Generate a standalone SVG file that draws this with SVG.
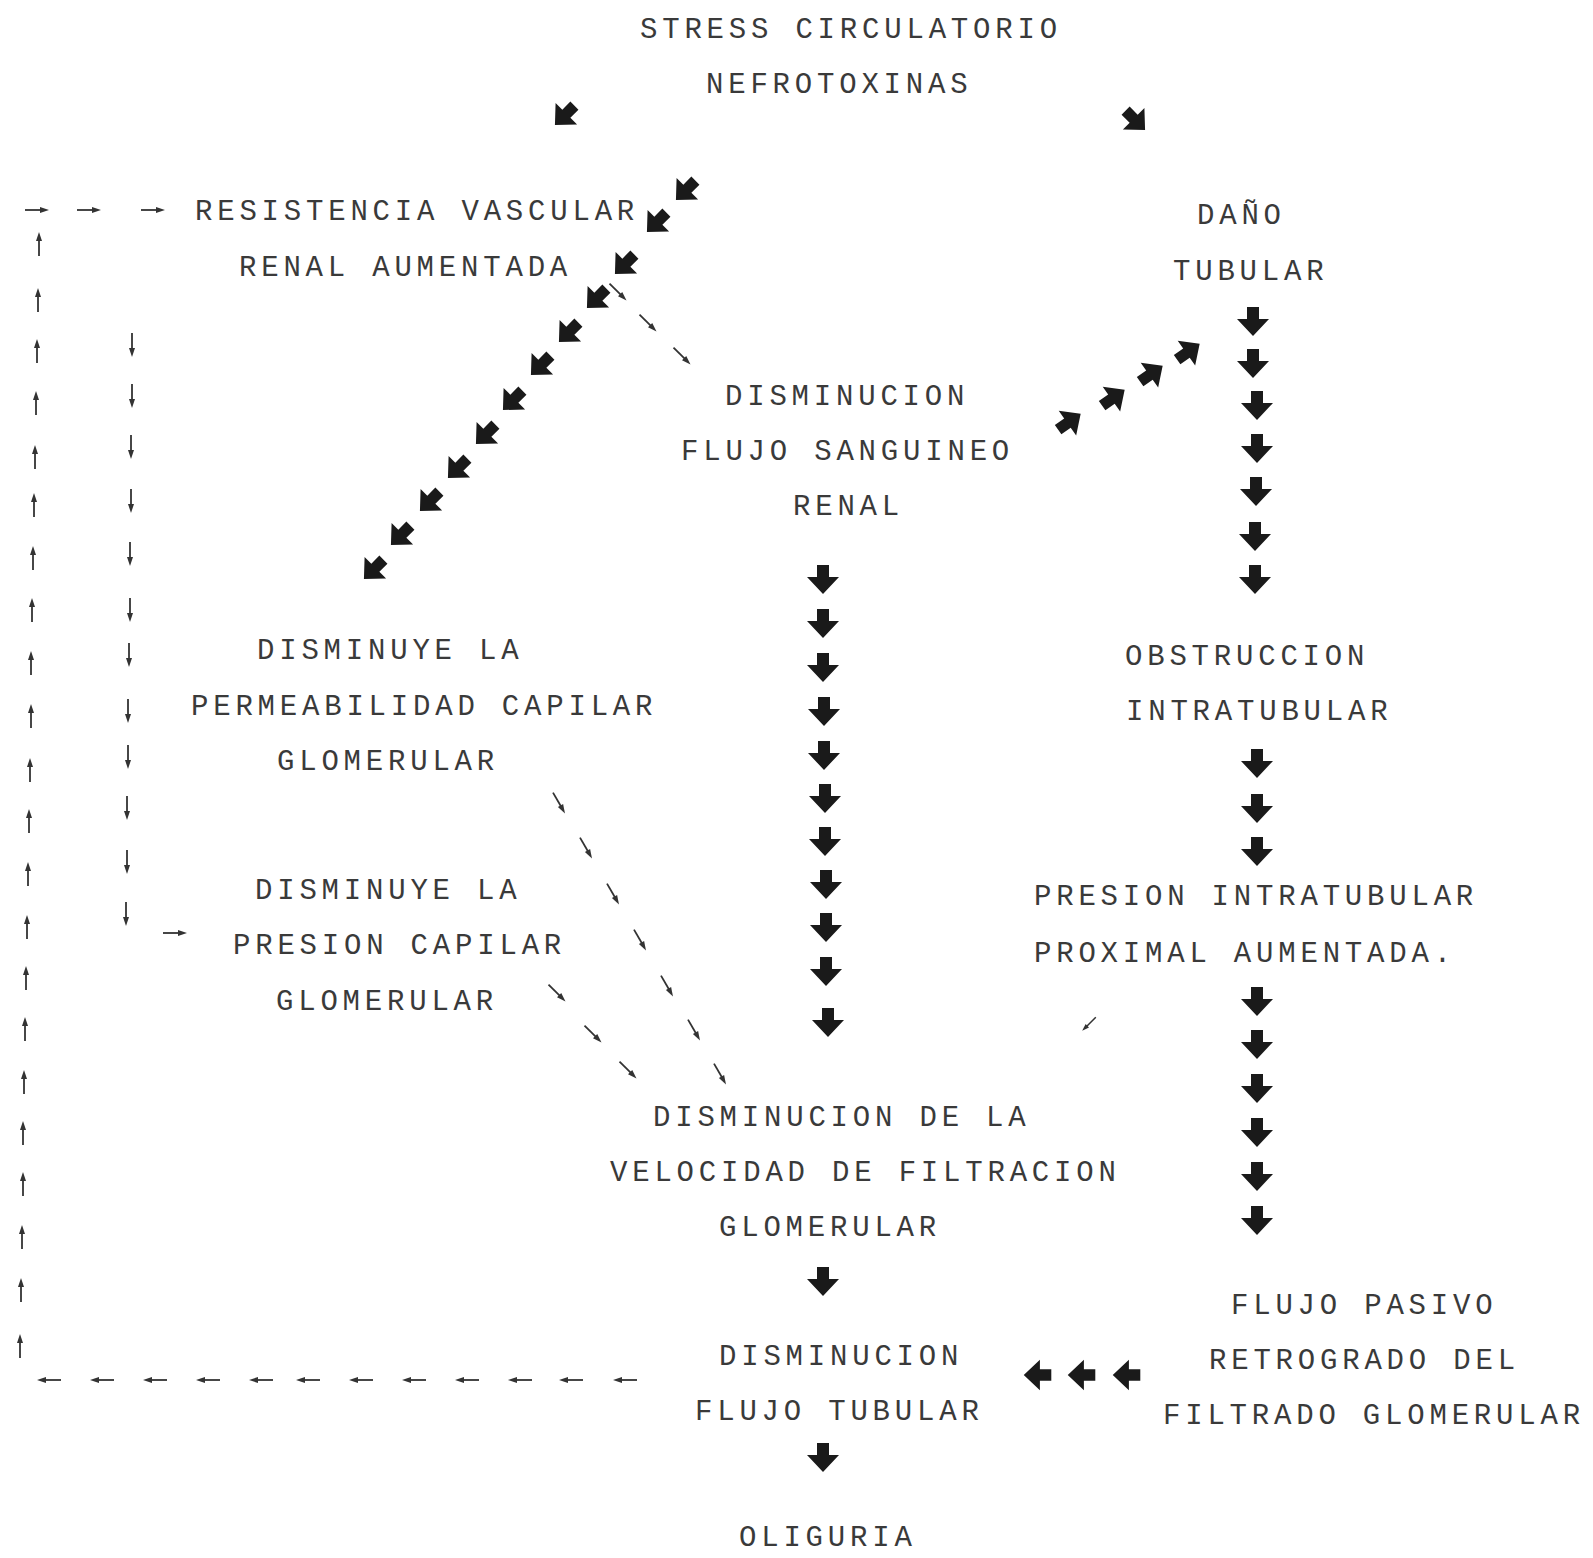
<svg xmlns="http://www.w3.org/2000/svg" xmlns:xlink="http://www.w3.org/1999/xlink" width="1593" height="1558" viewBox="0 0 1593 1558">
<style>
text{font-family:"Liberation Mono","DejaVu Sans Mono",monospace;font-size:29px;letter-spacing:4.8px;fill:#3a3a3a}
.ba{fill:#1a1a1a}
.sl{stroke:#333;stroke-width:1.8;fill:none}
.sh{fill:#333}
</style>
<defs>
<path id="ba" class="ba" d="M-6,-14 H6 V-2 H16 L0,15 L-16,-2 H-6 Z"/>
<g id="sa"><path class="sl" d="M0,-12 V7"/><path class="sh" d="M-3,3 L0,12 L3,3 Z"/></g>
</defs>
<rect width="1593" height="1558" fill="#fff"/>

<g id="n-stress"><text x="640" y="38">STRESS CIRCULATORIO</text><text x="706" y="93">NEFROTOXINAS</text></g>
<g id="n-resistencia"><text x="195" y="220">RESISTENCIA VASCULAR</text><text x="239" y="276">RENAL AUMENTADA</text></g>
<g id="n-dano"><text x="1197" y="224">DAÑO</text><text x="1173" y="280">TUBULAR</text></g>
<g id="n-flujo-sanguineo"><text x="725" y="405">DISMINUCION</text><text x="681" y="460">FLUJO SANGUINEO</text><text x="793" y="515">RENAL</text></g>
<g id="n-permeabilidad"><text x="257" y="659">DISMINUYE LA</text><text x="191" y="715">PERMEABILIDAD CAPILAR</text><text x="277" y="770">GLOMERULAR</text></g>
<g id="n-obstruccion"><text x="1125" y="665">OBSTRUCCION</text><text x="1126" y="720">INTRATUBULAR</text></g>
<g id="n-presion-capilar"><text x="255" y="899">DISMINUYE LA</text><text x="233" y="954">PRESION CAPILAR</text><text x="276" y="1010">GLOMERULAR</text></g>
<g id="n-presion-intratubular"><text x="1034" y="905">PRESION INTRATUBULAR</text><text x="1034" y="962">PROXIMAL AUMENTADA.</text></g>
<g id="n-vfg"><text x="653" y="1126">DISMINUCION DE LA</text><text x="610" y="1181">VELOCIDAD DE FILTRACION</text><text x="719" y="1236">GLOMERULAR</text></g>
<g id="n-flujo-pasivo"><text x="1231" y="1314">FLUJO PASIVO</text><text x="1209" y="1369">RETROGRADO DEL</text><text x="1163" y="1424">FILTRADO GLOMERULAR</text></g>
<g id="n-flujo-tubular"><text x="719" y="1365">DISMINUCION</text><text x="695" y="1420">FLUJO TUBULAR</text></g>
<g id="n-oliguria"><text x="739" y="1546">OLIGURIA</text></g>

<g id="connectors">
<use href="#ba" transform="translate(565,115) rotate(45) scale(0.95)"/>
<use href="#ba" transform="translate(1135,120) rotate(-45) scale(0.95)"/>
<use href="#ba" transform="translate(686,190) rotate(45) scale(0.95)"/>
<use href="#ba" transform="translate(657,222) rotate(45) scale(0.95)"/>
<use href="#ba" transform="translate(625,264) rotate(45) scale(0.95)"/>
<use href="#ba" transform="translate(597,298) rotate(45) scale(0.95)"/>
<use href="#ba" transform="translate(569,332) rotate(45) scale(0.95)"/>
<use href="#ba" transform="translate(541,365) rotate(45) scale(0.95)"/>
<use href="#ba" transform="translate(513,400) rotate(45) scale(0.95)"/>
<use href="#ba" transform="translate(486,434) rotate(45) scale(0.95)"/>
<use href="#ba" transform="translate(458,468) rotate(45) scale(0.95)"/>
<use href="#ba" transform="translate(430,501) rotate(45) scale(0.95)"/>
<use href="#ba" transform="translate(401,535) rotate(45) scale(0.95)"/>
<use href="#ba" transform="translate(374,569) rotate(45) scale(0.95)"/>
<use href="#sa" transform="translate(618,292) rotate(-45)"/>
<use href="#sa" transform="translate(648,323) rotate(-45)"/>
<use href="#sa" transform="translate(682,356) rotate(-45)"/>
<use href="#ba" transform="translate(1069,422) rotate(-125) scale(0.95)"/>
<use href="#ba" transform="translate(1113,398) rotate(-125) scale(0.95)"/>
<use href="#ba" transform="translate(1151,374) rotate(-125) scale(0.95)"/>
<use href="#ba" transform="translate(1188,352) rotate(-125) scale(0.95)"/>
<use href="#ba" transform="translate(823,579)"/>
<use href="#ba" transform="translate(823,623)"/>
<use href="#ba" transform="translate(823,667)"/>
<use href="#ba" transform="translate(824,711)"/>
<use href="#ba" transform="translate(824,755)"/>
<use href="#ba" transform="translate(825,798)"/>
<use href="#ba" transform="translate(825,841)"/>
<use href="#ba" transform="translate(826,884)"/>
<use href="#ba" transform="translate(826,927)"/>
<use href="#ba" transform="translate(826,971)"/>
<use href="#ba" transform="translate(828,1022)"/>
<use href="#ba" transform="translate(1253,321)"/>
<use href="#ba" transform="translate(1253,363)"/>
<use href="#ba" transform="translate(1257,405)"/>
<use href="#ba" transform="translate(1257,448)"/>
<use href="#ba" transform="translate(1256,491)"/>
<use href="#ba" transform="translate(1255,536)"/>
<use href="#ba" transform="translate(1255,579)"/>
<use href="#ba" transform="translate(1257,763)"/>
<use href="#ba" transform="translate(1257,808)"/>
<use href="#ba" transform="translate(1257,851)"/>
<use href="#ba" transform="translate(1257,1001)"/>
<use href="#ba" transform="translate(1257,1044)"/>
<use href="#ba" transform="translate(1257,1088)"/>
<use href="#ba" transform="translate(1257,1132)"/>
<use href="#ba" transform="translate(1257,1176)"/>
<use href="#ba" transform="translate(1257,1220)"/>
<use href="#sa" transform="translate(1089,1024) rotate(45) scale(0.8)"/>
<use href="#ba" transform="translate(1038,1375) rotate(90) scale(0.95)"/>
<use href="#ba" transform="translate(1082,1375) rotate(90) scale(0.95)"/>
<use href="#ba" transform="translate(1127,1375) rotate(90) scale(0.95)"/>
<use href="#ba" transform="translate(823,1281)"/>
<use href="#ba" transform="translate(823,1457)"/>
<use href="#sa" transform="translate(559,803) rotate(-30)"/>
<use href="#sa" transform="translate(586,848) rotate(-30)"/>
<use href="#sa" transform="translate(613,894) rotate(-30)"/>
<use href="#sa" transform="translate(640,940) rotate(-30)"/>
<use href="#sa" transform="translate(667,986) rotate(-30)"/>
<use href="#sa" transform="translate(694,1030) rotate(-30)"/>
<use href="#sa" transform="translate(720,1074) rotate(-30)"/>
<use href="#sa" transform="translate(557,993) rotate(-45)"/>
<use href="#sa" transform="translate(593,1034) rotate(-45)"/>
<use href="#sa" transform="translate(628,1070) rotate(-45)"/>
<use href="#sa" transform="translate(49,1380) rotate(90)"/>
<use href="#sa" transform="translate(102,1380) rotate(90)"/>
<use href="#sa" transform="translate(155,1380) rotate(90)"/>
<use href="#sa" transform="translate(208,1380) rotate(90)"/>
<use href="#sa" transform="translate(261,1380) rotate(90)"/>
<use href="#sa" transform="translate(308,1380) rotate(90)"/>
<use href="#sa" transform="translate(361,1380) rotate(90)"/>
<use href="#sa" transform="translate(414,1380) rotate(90)"/>
<use href="#sa" transform="translate(467,1380) rotate(90)"/>
<use href="#sa" transform="translate(520,1380) rotate(90)"/>
<use href="#sa" transform="translate(571,1380) rotate(90)"/>
<use href="#sa" transform="translate(625,1380) rotate(90)"/>
<use href="#sa" transform="translate(20,1346) rotate(180)"/>
<use href="#sa" transform="translate(21,1290) rotate(180)"/>
<use href="#sa" transform="translate(22,1237) rotate(180)"/>
<use href="#sa" transform="translate(23,1184) rotate(180)"/>
<use href="#sa" transform="translate(23,1133) rotate(180)"/>
<use href="#sa" transform="translate(24,1082) rotate(180)"/>
<use href="#sa" transform="translate(25,1029) rotate(180)"/>
<use href="#sa" transform="translate(26,978) rotate(180)"/>
<use href="#sa" transform="translate(27,927) rotate(180)"/>
<use href="#sa" transform="translate(28,874) rotate(180)"/>
<use href="#sa" transform="translate(29,821) rotate(180)"/>
<use href="#sa" transform="translate(30,770) rotate(180)"/>
<use href="#sa" transform="translate(31,716) rotate(180)"/>
<use href="#sa" transform="translate(31,663) rotate(180)"/>
<use href="#sa" transform="translate(32,610) rotate(180)"/>
<use href="#sa" transform="translate(33,558) rotate(180)"/>
<use href="#sa" transform="translate(34,505) rotate(180)"/>
<use href="#sa" transform="translate(35,457) rotate(180)"/>
<use href="#sa" transform="translate(36,403) rotate(180)"/>
<use href="#sa" transform="translate(37,351) rotate(180)"/>
<use href="#sa" transform="translate(38,300) rotate(180)"/>
<use href="#sa" transform="translate(39,244) rotate(180)"/>
<use href="#sa" transform="translate(37,210) rotate(-90)"/>
<use href="#sa" transform="translate(89,210) rotate(-90)"/>
<use href="#sa" transform="translate(153,210) rotate(-90)"/>
<use href="#sa" transform="translate(132,345)"/>
<use href="#sa" transform="translate(132,396)"/>
<use href="#sa" transform="translate(131,447)"/>
<use href="#sa" transform="translate(131,501)"/>
<use href="#sa" transform="translate(130,554)"/>
<use href="#sa" transform="translate(130,610)"/>
<use href="#sa" transform="translate(129,655)"/>
<use href="#sa" transform="translate(128,711)"/>
<use href="#sa" transform="translate(128,757)"/>
<use href="#sa" transform="translate(127,808)"/>
<use href="#sa" transform="translate(127,862)"/>
<use href="#sa" transform="translate(126,914)"/>
<use href="#sa" transform="translate(175,933) rotate(-90)"/>
</g>
</svg>
